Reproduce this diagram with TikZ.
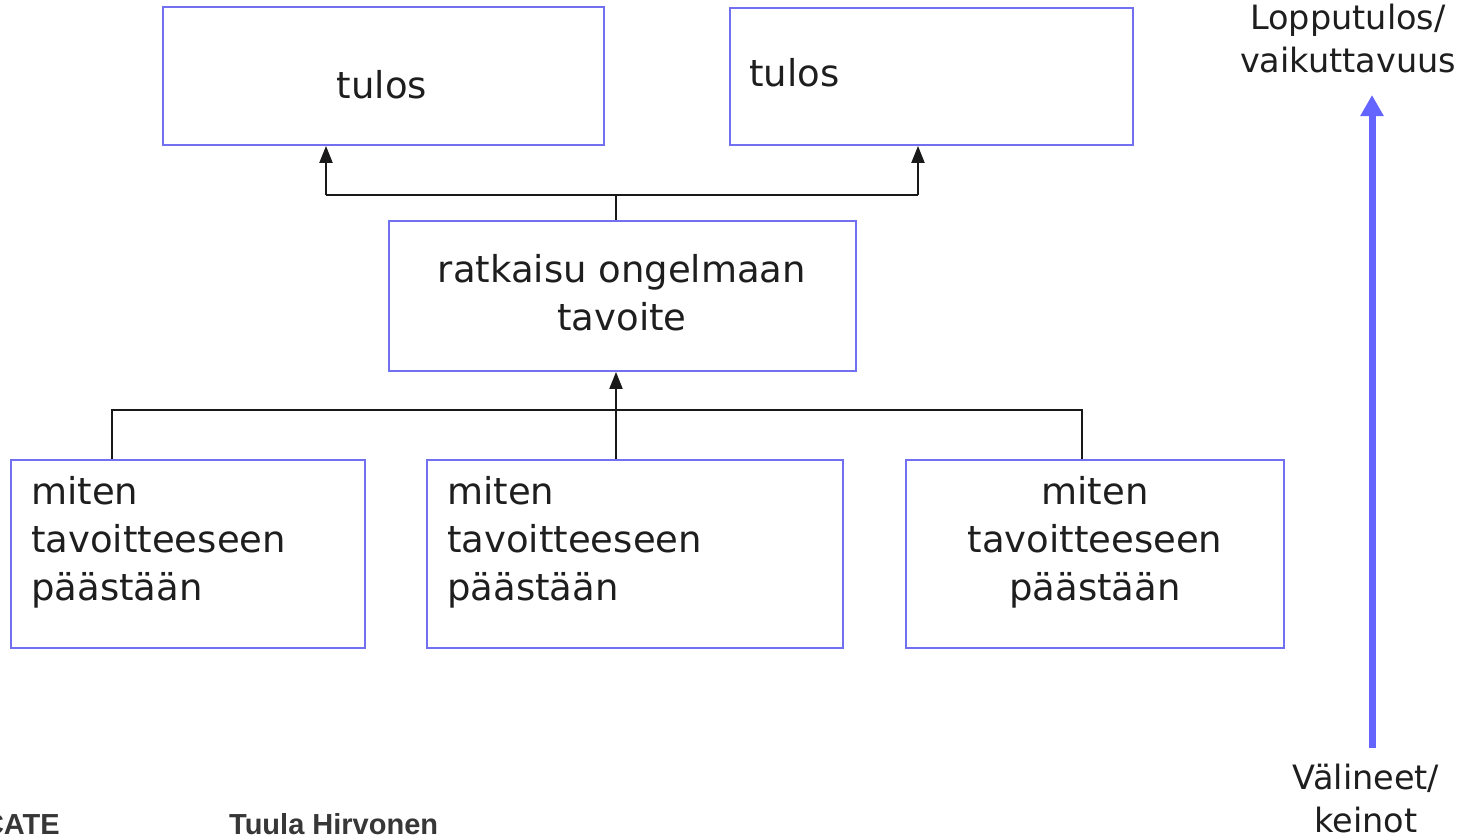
\documentclass[tikz,border=0pt]{standalone}
\usepackage{fontspec}
\setmainfont{DejaVu Sans}
\newfontfamily\credfont{Liberation Sans}
\usetikzlibrary{arrows.meta}

\definecolor{boxblue}{RGB}{112,112,240}
\definecolor{axisblue}{RGB}{100,100,255}
\definecolor{inktext}{RGB}{30,30,30}
\definecolor{credgray}{RGB}{55,55,55}

\tikzset{
  box/.style={draw=boxblue, line width=1.8pt, rectangle, inner sep=0pt},
  txt/.style={inner sep=0pt, text=inktext, font=\fontsize{37}{48}\selectfont},
  sidetxt/.style={inner sep=0pt, text=inktext, align=center, font=\fontsize{33.5}{43}\selectfont},
  conn/.style={draw=black!90, line width=2pt},
  uparrow/.style={conn, -{Triangle[length=17pt,width=13pt]}},
  credit/.style={inner sep=0pt, text=credgray, font=\credfont\bfseries\fontsize{29}{32}\selectfont},
}

\begin{document}
\begin{tikzpicture}[x=1pt, y=-1pt]
\useasboundingbox (0,0) rectangle (1468,836);
\clip (0,0) rectangle (1468,836);

% results
\node[box, minimum width=441pt, minimum height=138pt] (t1) at (383.5,76) {};
\node[box, minimum width=403pt, minimum height=137pt] (t2) at (931.5,76.5) {};
\node[txt, anchor=base] (t1l) at (382,98) {tulos};
\node[txt, anchor=base west] (t2l) at (749,86) {tulos};

% goal (base anchor sits on the last line)
\node[box, minimum width=467pt, minimum height=150pt] (r) at (622.5,296) {};
\node[txt, anchor=base, align=center] (rl) at (622,330) {ratkaisu ongelmaan\\tavoite};

% means
\node[box, minimum width=354pt, minimum height=188pt] (mA) at (188,554) {};
\node[box, minimum width=416pt, minimum height=188pt] (mB) at (635,554) {};
\node[box, minimum width=378pt, minimum height=188pt] (mC) at (1095,554) {};
\node[txt, anchor=base west, align=left] (mAl) at (31,600) {miten\\tavoitteeseen\\päästään};
\node[txt, anchor=base west, align=left] (mBl) at (447,600) {miten\\tavoitteeseen\\päästään};
\node[txt, anchor=base, align=center] (mCl) at (1095,600) {miten\\tavoitteeseen\\päästään};

% junction points of the connectors
\coordinate (busT) at (616,195);
\coordinate (tA) at (326,195);
\coordinate (tB) at (918,195);
\coordinate (busA) at (112,410);
\coordinate (busB) at (616,410);
\coordinate (busC) at (1082,410);

% goal -> results
\draw[conn] (r.north -| busT) -- (busT);
\draw[conn] (tA) -- (tB);
\draw[uparrow] (tA) -- (t1.south -| tA);
\draw[uparrow] (tB) -- (t2.south -| tB);

% means -> goal
\draw[conn] (mA.north -| busA) -- (busA) -- (busC) -- (mC.north -| busC);
\draw[uparrow] (mB.north -| busB) -- (r.south -| busB);

% side axis
\node[sidetxt, anchor=base] (top) at (1348,72) {Lopputulos/\\vaikuttavuus};
\node[sidetxt, anchor=base] (bot) at (1366,832) {Välineet/\\keinot};
\coordinate (axB) at (1372,748);
\coordinate (axT) at (1372,95);
\draw[axisblue, line width=7pt, -{Triangle[length=21pt,width=22pt]}] (axB) -- (axT);

% footer
\node[credit, anchor=base east] (org) at (60,834) {CATE};
\node[credit, anchor=base west] (auth) at (229,834) {Tuula Hirvonen};
\end{tikzpicture}
\end{document}
